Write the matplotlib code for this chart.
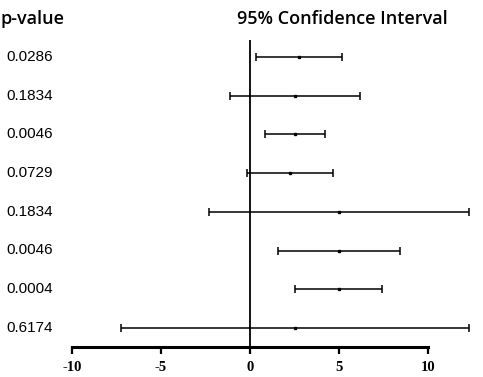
import matplotlib.pyplot as plt

# p-values and 95% CI per row (top to bottom)
p_values = ['0.0286', '0.1834', '0.0046', '0.0729', '0.1834', '0.0046', '0.0004', '0.6174']
estimates = [2.75, 2.51, 2.50, 2.26, 5.02, 5.02, 5.02, 2.51]
ci_low = [0.32, -1.14, 0.83, -0.19, -2.32, 1.59, 2.55, -7.26]
ci_high = [5.19, 6.20, 4.23, 4.68, 12.30, 8.44, 7.43, 12.30]
xticks = [-10, -5, 0, 5, 10]

W, H = 483, 377
fig = plt.figure(figsize=(W / 100, H / 100), dpi=100)

# axes placed in pixel terms: x=-10 at 72px, x=10 at 428px
ax = fig.add_axes([0, 1 - 347 / H, 1, (347 - 40) / H])
px_per_unit = (428 - 72) / 20
ax.set_xlim(-10 - 72 / px_per_unit, 10 + (W - 428) / px_per_unit)
row_gap = 38.7
ax.set_ylim((347 - 57) / row_gap, (40 - 57) / row_gap)

rows = list(range(len(p_values)))
err = [[e - lo for e, lo in zip(estimates, ci_low)],
       [hi - e for e, hi in zip(estimates, ci_high)]]
ax.errorbar(estimates, rows, xerr=err, fmt='s', color='black', ms=2.0,
            ecolor='black', elinewidth=1.1, capsize=3, capthick=1.1)
ax.axvline(0, color='black', lw=1.3)

for s in ['top', 'right', 'left']:
    ax.spines[s].set_visible(False)
ax.spines['bottom'].set_linewidth(2.2)
ax.spines['bottom'].set_bounds(-10, 10)
ax.set_yticks([])
ax.set_xticks(xticks)
ax.set_xticklabels([str(t) for t in xticks], fontfamily='Liberation Serif',
                   fontweight='bold', fontsize=10.5)
ax.tick_params(axis='x', direction='out', length=5, width=1.6, pad=5)

for i, p in enumerate(p_values):
    fig.text(6 / W, 1 - (57 + row_gap * i) / H, p, fontsize=11,
             fontfamily='Liberation Sans', va='center', ha='left')

fig.text(0 / W, 1 - 18.5 / H, 'p-value', fontsize=13, fontfamily='Open Sans',
         fontweight='semibold', va='center', ha='left')
fig.text(342 / W, 1 - 18.5 / H, '95% Confidence Interval', fontsize=13,
         fontfamily='Open Sans', fontweight='semibold', va='center', ha='center')

fig.savefig('out.png', dpi=100)
